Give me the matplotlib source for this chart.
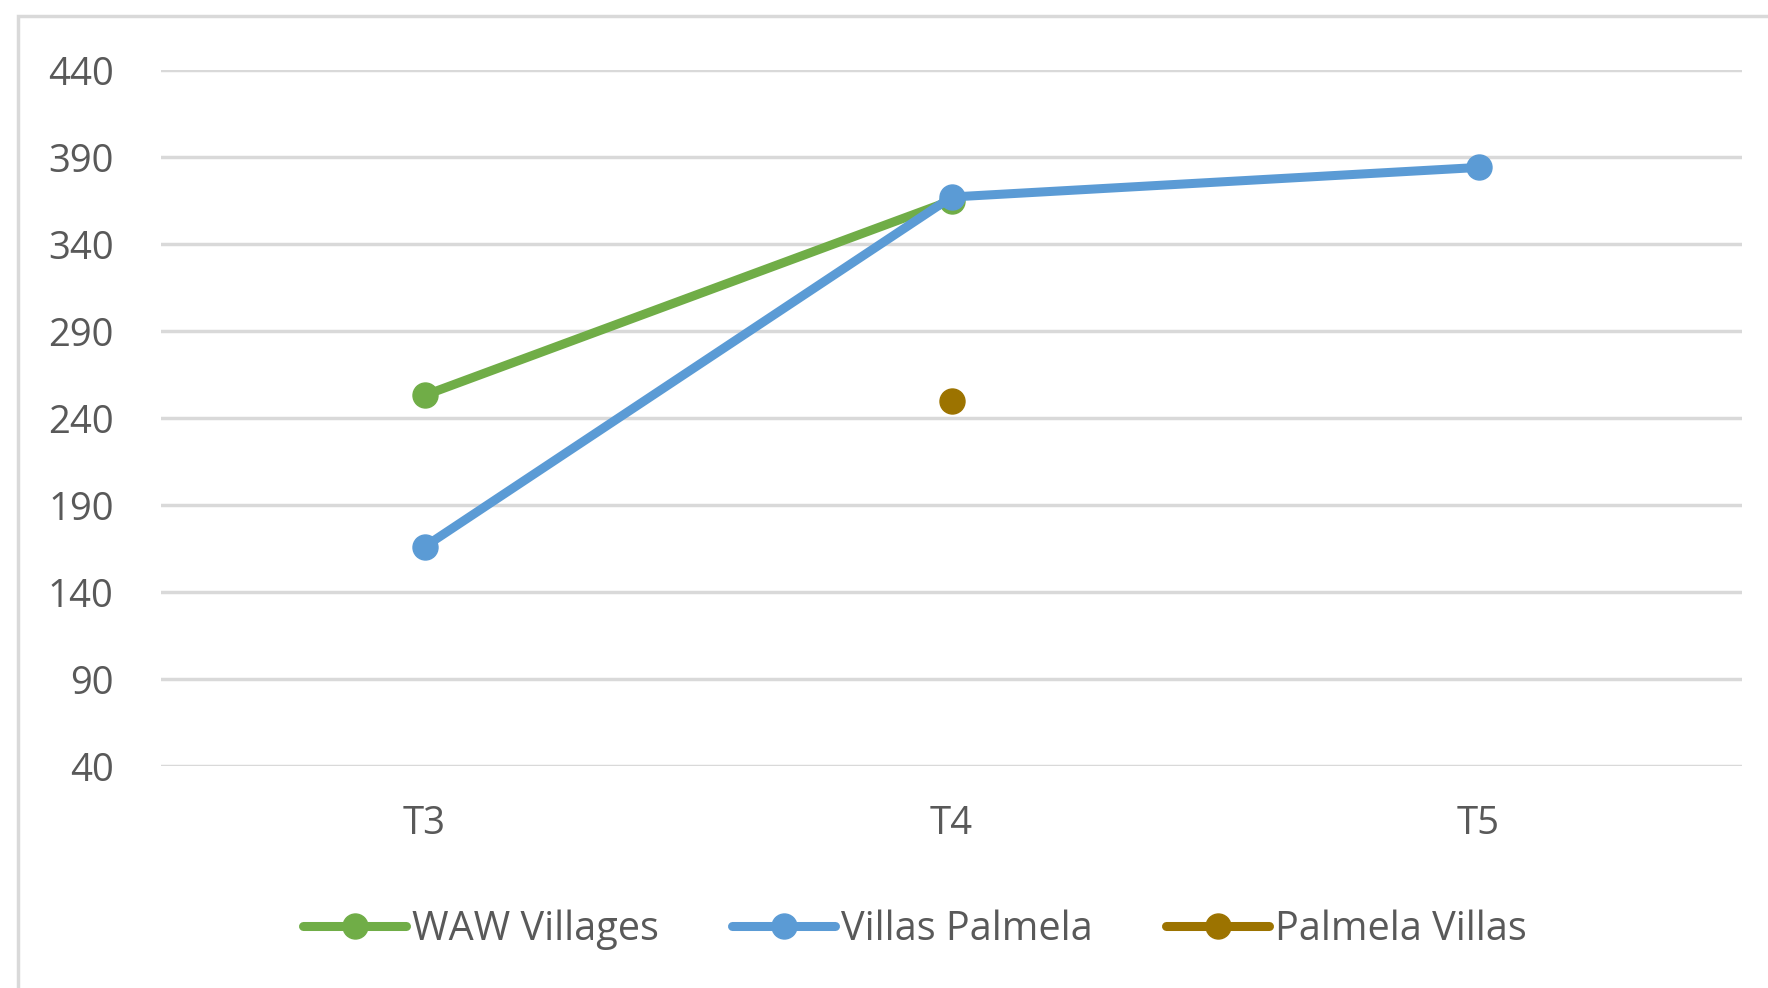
import numpy as np
import matplotlib
matplotlib.use("Agg")
import matplotlib.pyplot as plt
from matplotlib.patches import Rectangle

categories = ["T3", "T4", "T5"]
waw_villages = [253, 365, np.nan]
villas_palmela = [166, 367, 384]
palmela_villas = [np.nan, 250, np.nan]
series_names = ["WAW Villages", "Villas Palmela", "Palmela Villas"]
y_ticks = [40, 90, 140, 190, 240, 290, 340, 390, 440]

colors = ["#70AD47", "#5B9BD5", "#9C7300"]
text_color = "#595959"
grid_color = "#D9D9D9"

plt.rcParams['font.family'] = ['Open Sans', 'DejaVu Sans']

fig = plt.figure(figsize=(17.68, 9.88), dpi=100)
fig.patch.set_facecolor("white")

# chart border (Excel chart area)
fig.patches.append(Rectangle((18/1768, -0.05), 1.1, 1 - 16/988 + 0.05,
                             transform=fig.transFigure, fill=False,
                             edgecolor=grid_color, linewidth=2.5, zorder=0))

ax = fig.add_axes([161/1768, 1 - 766/988, (1742-161)/1768, (766-70)/988])
x = np.arange(len(categories))
for vals, name, c in zip([waw_villages, villas_palmela, palmela_villas], series_names, colors):
    ax.plot(x, vals, color=c, linewidth=6.5, marker='o', markersize=18,
            solid_capstyle='round', label=name, zorder=3)

ax.set_xlim(-0.5, len(categories) - 0.5)
ax.set_ylim(40, 440)
ax.set_yticks(y_ticks)
ax.set_xticks(x)
ax.set_xticklabels(categories)
ax.yaxis.grid(True, color=grid_color, linewidth=2.5)
ax.set_axisbelow(True)
for s in ax.spines.values():
    s.set_visible(False)
ax.tick_params(axis='both', length=0, labelsize=27.5, colors=text_color)
ax.tick_params(axis='y', pad=34)
ax.tick_params(axis='x', pad=28)

leg = ax.legend(loc='upper center', bbox_to_anchor=(0.477, -0.155), ncol=3,
                frameon=False, fontsize=28.5, handlelength=2.6, handletextpad=0.15,
                columnspacing=1.85)
for t in leg.get_texts():
    t.set_color(text_color)

fig.savefig("out.png", dpi=100, facecolor="white")
